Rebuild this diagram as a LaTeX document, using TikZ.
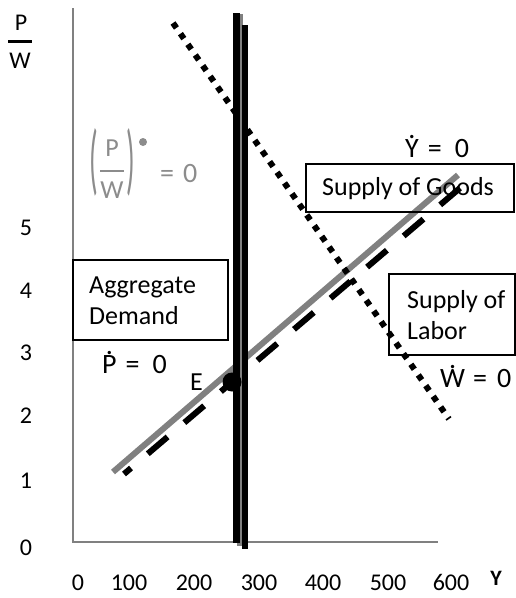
\documentclass[tikz,border=0pt]{standalone}
\usepackage{fontspec}
\usepackage{graphicx}
\setmainfont{Carlito}
\definecolor{lgray}{RGB}{128,128,128}
\definecolor{tgray}{RGB}{140,140,140}
\newcommand\dotabove[1]{\leavevmode\ooalign{#1\cr\hidewidth\raisebox{0.66em}{.}\hidewidth\cr}}
\tikzset{
  axisline/.style={draw=lgray, line width=1.5pt},
  lbl/.style={font=\fontsize{26}{31}\selectfont, inner sep=0pt, anchor=base west},
  dlbl/.style={font=\fontsize{28}{33}\selectfont, inner sep=0pt, anchor=base west},
  ticklbl/.style={font=\fontsize{24}{29}\selectfont, inner sep=0pt, anchor=base},
  boxst/.style={draw=black, line width=1.2pt, inner sep=0pt},
  thick line/.style={line width=6pt},
}
\begin{document}
\begin{tikzpicture}[x=1pt,y=-1pt]
\useasboundingbox (0,0) rectangle (516,598);
% axes
\coordinate (ytop) at (73,8);
\coordinate (orig) at (73,542);
\coordinate (xend) at (438,542);
\draw[axisline] (ytop) -- (orig) -- (xend);
% y tick labels
\node[ticklbl] (y5) at (26,235) {5};
\node[ticklbl] (y4) at (26,298) {4};
\node[ticklbl] (y3) at (26,360) {3};
\node[ticklbl] (y2) at (26,423) {2};
\node[ticklbl] (y1) at (26,488) {1};
\node[ticklbl] (y0) at (26,555) {0};
% x tick labels
\node[ticklbl] (x0) at (78,590) {0};
\node[ticklbl] (x1) at (129,590) {100};
\node[ticklbl] (x2) at (194,590) {200};
\node[ticklbl] (x3) at (259,590) {300};
\node[ticklbl] (x4) at (323,590) {400};
\node[ticklbl] (x5) at (388,590) {500};
\node[ticklbl] (x6) at (451,590) {600};
\node[font=\bfseries\fontsize{22}{26}\selectfont, inner sep=0pt, anchor=base] (ylab) at (496,585) {Y};
% P/W axis label
\node[font=\fontsize{24}{29}\selectfont, inner sep=0pt, anchor=base] (pn) at (21,30) {P};
\node[font=\fontsize{24}{29}\selectfont, inner sep=0pt, anchor=base] (wn) at (20,68) {W};
\coordinate (barl) at (8,41.5);
\coordinate (barr) at (32,41.5);
\draw[line width=3pt] (barl) -- (barr);
% sloped lines
\coordinate (g1) at (113,472);
\coordinate (g2) at (458,175);
\draw[lgray, thick line] (g1) -- (g2);
\coordinate (d1) at (460,188);
\coordinate (d2) at (124,474);
\draw[thick line, dash pattern=on 26pt off 22pt] (d1) -- (d2);
\coordinate (s1) at (173,23);
\coordinate (s2) at (449,419);
\draw[thick line, dash pattern=on 6pt off 7pt] (s1) -- (s2);
% vertical lines
\coordinate (va1) at (239.5,14);
\coordinate (va2) at (239.5,546);
\draw[lgray, line width=6pt] (va1) -- (va2);
\coordinate (vb1) at (236.5,13);
\coordinate (vb2) at (236.5,543);
\draw[line width=7pt] (vb1) -- (vb2);
\coordinate (vc1) at (245.2,25);
\coordinate (vc2) at (245.2,549);
\draw[line width=6pt] (vc1) -- (vc2);
% equilibrium point
\node[circle, fill=black, minimum size=19pt, inner sep=0pt] (E) at (232,382) {};
\node[lbl] (elab) at (190,390) {E};
% boxes
\node[boxst, minimum width=208pt, minimum height=48pt] (goods) at (410,188) {};
\node[lbl] (goodst) at (322,195) {Supply of Goods};
\node[boxst, minimum width=155pt, minimum height=80pt] (ad) at (150.5,300) {};
\node[lbl] (adt1) at (89,293) {Aggregate};
\node[lbl] (adt2) at (89,324) {Demand};
\node[boxst, minimum width=126pt, minimum height=81pt] (labor) at (452,314.5) {};
\node[lbl] (labt1) at (407,308) {Supply of};
\node[lbl] (labt2) at (407,339) {Labor};
% dotted-variable labels
\node[dlbl] (ydot) at (405,157) {\dotabove{Y}\hspace{9pt}=\hspace{13pt}0};
\node[dlbl] (pdot) at (102,373) {\dotabove{P}\hspace{9pt}=\hspace{13pt}0};
\node[dlbl] (wdot) at (440,387) {\dotabove{W}\hspace{8pt}=\hspace{10pt}0};
% (P/W)^dot = 0 in gray
\node[font=\fontsize{26}{31}\selectfont, inner sep=0pt, text=tgray] (lpar) at (94,162.5) {\scalebox{1.1}[3.0]{(}};
\node[font=\fontsize{26}{31}\selectfont, inner sep=0pt, text=tgray] (rpar) at (131,162.5) {\scalebox{1.1}[3.0]{)}};
\node[font=\fontsize{26}{31}\selectfont, inner sep=0pt, anchor=base, text=tgray] (pp) at (112,156) {P};
\node[font=\fontsize{26}{31}\selectfont, inner sep=0pt, anchor=base, text=tgray] (ww) at (112,198) {W};
\coordinate (fbl) at (100,171);
\coordinate (fbr) at (124,171);
\draw[tgray, line width=2.5pt] (fbl) -- (fbr);
\node[circle, fill=tgray, minimum size=8pt, inner sep=0pt] (bul) at (143,142) {};
\node[font=\fontsize{28}{33}\selectfont, inner sep=0pt, anchor=base west, text=tgray] (eq0) at (160,182) {=\hspace{9pt}0};
\end{tikzpicture}
\end{document}
